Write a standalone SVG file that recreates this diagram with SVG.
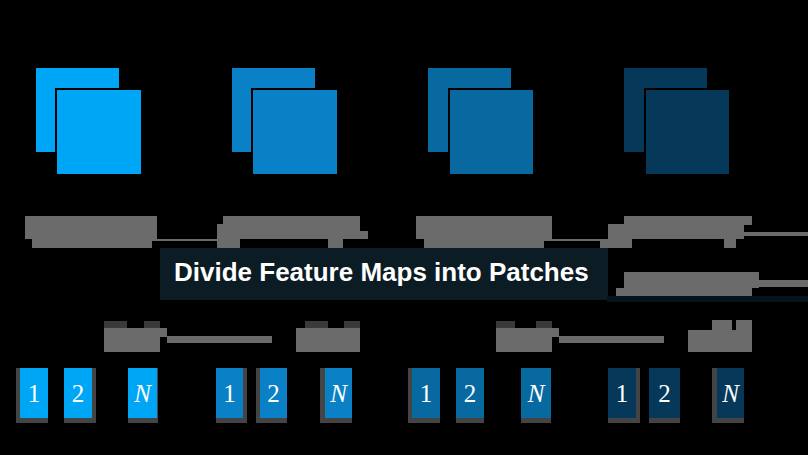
<svg xmlns="http://www.w3.org/2000/svg" width="808" height="455" viewBox="0 0 808 455">
  <style>
    .c1 { fill: #00a6f6; }
    .c2 { fill: #0a80c6; }
    .c3 { fill: #0869a0; }
    .c4 { fill: #06385a; }
    .sq { stroke: #000; stroke-width: 2; }
    .lbl { fill: #6b6b6b; }
    .lbl-top { fill: #3a3a3a; }
    .edge { fill: #444; }
    .num { font-family: "Liberation Serif", "Times New Roman", serif; font-size: 25px; fill: #fff; text-anchor: middle; }
    .it { font-style: italic; }
    .title { font-family: "Liberation Sans", Arial, sans-serif; font-weight: bold; font-size: 26px; fill: #fff; }
  </style>

  <rect x="0" y="0" width="808" height="455" fill="#000"/>

  <!-- feature map stacks -->
  <g id="map-1">
    <rect class="c1 sq" x="35" y="67" width="85" height="86"/>
    <rect class="c1 sq" x="56" y="89" width="86" height="86"/>
  </g>
  <g id="map-2">
    <rect class="c2 sq" x="231" y="67" width="85" height="86"/>
    <rect class="c2 sq" x="252" y="89" width="86" height="86"/>
  </g>
  <g id="map-3">
    <rect class="c3 sq" x="427" y="67" width="85" height="86"/>
    <rect class="c3 sq" x="449" y="89" width="85" height="86"/>
  </g>
  <g id="map-4">
    <rect class="c4 sq" x="623" y="67" width="85" height="86"/>
    <rect class="c4 sq" x="645" y="89" width="85" height="86"/>
  </g>

  <!-- label blocks under the maps -->
  <g id="map-labels">
    <rect class="lbl" x="25" y="216" width="132" height="23"/>
    <rect class="lbl" x="32" y="239" width="120" height="9"/>
    <path class="lbl" d="M223 216 H360 V231 H368 V239 H343 V248 H328 V239 H240 V248 H217 V224 H223 Z"/>
    <rect class="lbl" x="416" y="216" width="136" height="23"/>
    <rect class="lbl" x="424" y="239" width="120" height="9"/>
    <path class="lbl" d="M624 216 H752 V225 H744 V239 H736 V248 H724 V239 H632 V248 H600 V239 H608 V224 H624 Z"/>
    <rect class="lbl" x="624" y="272" width="135" height="16"/>
    <rect class="lbl" x="616" y="288" width="136" height="8"/>
  </g>

  <!-- title -->
  <g id="title">
    <rect x="160" y="248" width="448" height="52" fill="#0b1c24"/>
    <rect x="607" y="296" width="201" height="6" fill="#07131a"/>
    <text class="title" x="174" y="281">Divide Feature Maps into Patches</text>
  </g>

  <!-- label blocks above the patch rows -->
  <g id="patch-labels">
    <rect class="lbl-top" x="104" y="321" width="23" height="7"/>
    <rect class="lbl-top" x="144" y="321" width="16" height="7"/>
    <rect class="lbl" x="104" y="328" width="56" height="24"/>
    <rect class="lbl" x="160" y="328" width="7" height="9"/>
    <rect class="lbl-top" x="305" y="321" width="23" height="7"/>
    <rect class="lbl-top" x="344" y="321" width="16" height="7"/>
    <rect class="lbl" x="296" y="328" width="64" height="24"/>
    <rect class="lbl-top" x="496" y="321" width="19" height="7"/>
    <rect class="lbl-top" x="536" y="321" width="16" height="7"/>
    <rect class="lbl" x="496" y="328" width="56" height="24"/>
    <rect class="lbl" x="552" y="328" width="7" height="9"/>
    <rect class="lbl" x="712" y="320" width="20" height="10"/>
    <rect class="lbl" x="736" y="320" width="16" height="10"/>
    <rect class="lbl" x="688" y="330" width="64" height="22"/>
  </g>

  <!-- connecting bars -->
  <g id="connectors">
    <rect class="lbl" x="152" y="239" width="65" height="2"/>
    <rect class="lbl" x="544" y="239" width="73" height="2"/>
    <rect class="lbl" x="744" y="232" width="64" height="4"/>
    <rect class="lbl" x="759" y="280" width="49" height="7"/>
    <rect class="lbl" x="167" y="336" width="105" height="7"/>
    <rect class="lbl" x="559" y="336" width="105" height="7"/>
  </g>

  <!-- patch rows -->
  <g id="patches-1">
    <rect class="edge" x="16" y="368" width="32" height="55"/>
    <rect class="c1" x="20" y="368" width="28" height="50"/>
    <text class="num" x="34" y="402">1</text>
    <rect class="edge" x="64" y="368" width="32" height="55"/>
    <rect class="c1" x="64" y="368" width="28" height="50"/>
    <text class="num" x="78" y="402">2</text>
    <rect class="edge" x="128" y="368" width="30" height="55"/>
    <rect class="c1" x="128" y="368" width="29" height="50"/>
    <text class="num it" x="142.5" y="402">N</text>
  </g>
  <g id="patches-2">
    <rect class="edge" x="216" y="368" width="31" height="55"/>
    <rect class="c2" x="216" y="368" width="27" height="50"/>
    <text class="num" x="229.5" y="402">1</text>
    <rect class="edge" x="256" y="368" width="31" height="55"/>
    <rect class="c2" x="260" y="368" width="27" height="50"/>
    <text class="num" x="273.5" y="402">2</text>
    <rect class="edge" x="320" y="368" width="32" height="55"/>
    <rect class="c2" x="325" y="368" width="27" height="50"/>
    <text class="num it" x="338.5" y="402">N</text>
  </g>
  <g id="patches-3">
    <rect class="edge" x="408" y="368" width="32" height="55"/>
    <rect class="c3" x="412" y="368" width="28" height="50"/>
    <text class="num" x="426" y="402">1</text>
    <rect class="edge" x="456" y="368" width="28" height="55"/>
    <rect class="c3" x="456" y="368" width="28" height="50"/>
    <text class="num" x="470" y="402">2</text>
    <rect class="edge" x="521" y="368" width="30" height="55"/>
    <rect class="c3" x="521" y="368" width="30" height="50"/>
    <text class="num it" x="536" y="402">N</text>
  </g>
  <g id="patches-4">
    <rect class="edge" x="608" y="368" width="32" height="55"/>
    <rect class="c4" x="608" y="368" width="28" height="50"/>
    <text class="num" x="622" y="402">1</text>
    <rect class="edge" x="649" y="368" width="31" height="55"/>
    <rect class="c4" x="649" y="368" width="31" height="50"/>
    <text class="num" x="664.5" y="402">2</text>
    <rect class="edge" x="712" y="368" width="32" height="55"/>
    <rect class="c4" x="717" y="368" width="27" height="50"/>
    <text class="num it" x="730.5" y="402">N</text>
  </g>
</svg>
